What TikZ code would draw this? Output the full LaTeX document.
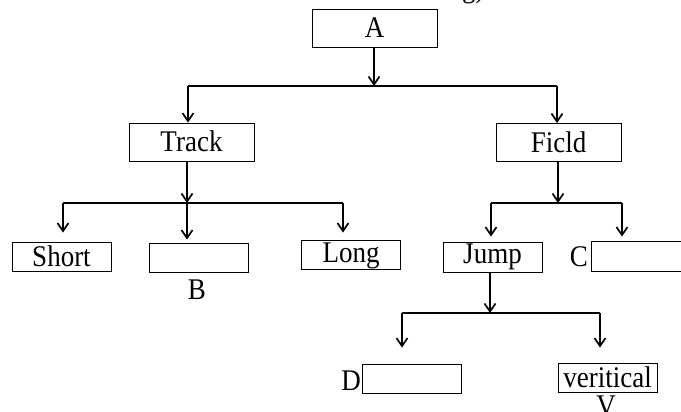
\documentclass[tikz,border=0pt]{standalone}
\usepackage{fontspec}
\setmainfont{Liberation Serif}[FakeStretch=0.9]
\usetikzlibrary{arrows.meta}
\begin{document}
\begin{tikzpicture}[x=1pt,y=-1pt,
  txt/.style={font=\fontsize{30}{32}\selectfont},
  box/.style={txt, draw, line width=0.9pt, rectangle, inner sep=0pt,
    minimum width=99pt, minimum height=29pt, text height=20pt, text depth=0pt},
  bigbox/.style={box, minimum width=125pt, minimum height=38pt},
  lbl/.style={txt, inner sep=0pt},
  arr/.style={line width=1.2pt, -{Straight Barb[length=8pt,width=11pt,line width=1.7pt]}},
  bar/.style={line width=2.2pt},
]
\useasboundingbox (0,0) rectangle (681,412);
\clip (0,0) rectangle (681,412);

% fragment of text above
\node[lbl, anchor=base west] (frag) at (462,-2) {g)};

% boxes
\node[bigbox] (A) at (374.5,28) {A};
\node[bigbox] (Track) at (191.5,142) {Track};
\node[bigbox] (Field) at (558.5,142.5) {Ficld};
\node[box] (Short) at (61.5,256.5) {Short};
\node[box] (Bbox) at (198.5,257.5) {};
\node[box, text height=15pt] (Long) at (351,254.5) {Long};
\node[box, minimum height=30pt, text height=12pt] (Jump) at (492.5,257) {Jump};
\node[box, minimum height=30pt] (Cbox) at (640.5,256) {};
\node[box] (Dbox) at (411.5,378.5) {};
\node[box] (Vert) at (607.5,377.5) {veritical};

% labels
\node[lbl, anchor=base] (lB) at (197,299) {B};
\node[lbl, anchor=base east] (lC) at (588,266) {C};
\node[lbl, anchor=base east] (lD) at (361,390) {D};
\node[lbl, anchor=base] (lV) at (606,415) {V};

% level 1
\coordinate (b1) at (374,86);
\coordinate (b1L) at (188,86);
\coordinate (b1R) at (557,86);
\draw[arr] (A.south -| b1) -- (b1);
\draw[bar] (b1L) -- (b1R);
\draw[arr] (b1L) -- (b1L |- Track.north);
\draw[arr] (b1R) -- (b1R |- Field.north);

% level 2 left
\coordinate (b2) at (187,203);
\coordinate (b2L) at (63,203);
\coordinate (b2R) at (343,203);
\draw[arr] (Track.south -| b2) -- (b2);
\draw[bar] (b2L) -- (b2R);
\draw[arr, shorten >=9pt] (b2L) -- (b2L |- Short.north);
\draw[arr, shorten >=3pt] (b2) -- (b2 |- Bbox.north);
\draw[arr, shorten >=7pt] (b2R) -- (b2R |- Long.north);

% level 2 right
\coordinate (b3) at (558,203);
\coordinate (b3L) at (491,203);
\coordinate (b3R) at (622,203);
\draw[arr] (Field.south -| b3) -- (b3);
\draw[bar] (b3L) -- (b3R);
\draw[arr, shorten >=5pt] (b3L) -- (b3L |- Jump.north);
\draw[arr, shorten >=4pt] (b3R) -- (b3R |- Cbox.north);

% level 3
\coordinate (b4) at (490,313);
\coordinate (b4L) at (402,313);
\coordinate (b4R) at (600,313);
\draw[arr] (Jump.south -| b4) -- (b4);
\draw[bar] (b4L) -- (b4R);
\draw[arr, shorten >=16pt] (b4L) -- (b4L |- Dbox.north);
\draw[arr, shorten >=15pt] (b4R) -- (b4R |- Vert.north);
\end{tikzpicture}
\end{document}
